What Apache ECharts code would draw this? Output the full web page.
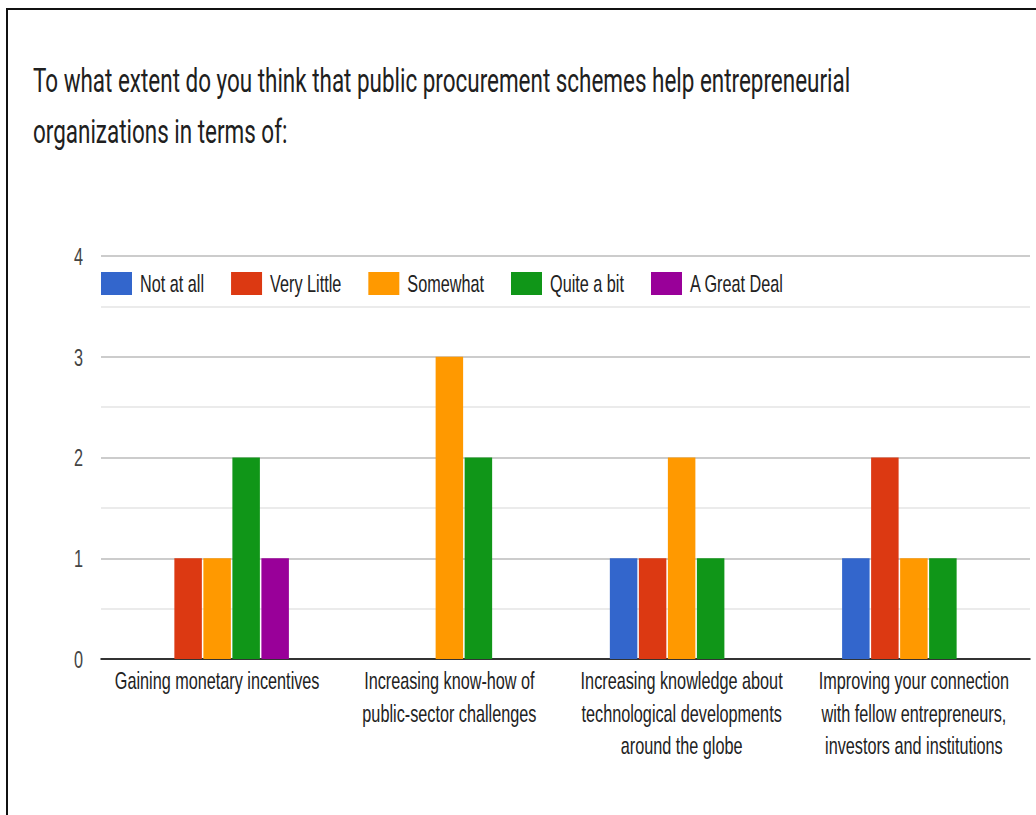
<!DOCTYPE html>
<html>
<head>
<meta charset="utf-8">
<script src="https://cdn.jsdelivr.net/npm/echarts@6/dist/echarts.min.js"></script>
<style>
html,body{margin:0;padding:0;background:#fff;}
#wrap{position:absolute;left:0;top:0;width:1036px;height:815px;overflow:hidden;background:#fff;}
#chart{position:absolute;left:0;top:0;height:815px;transform-origin:0 0;}
#frame{position:absolute;left:6px;top:8px;width:1100px;height:900px;border-top:2px solid #111;border-left:2px solid #111;pointer-events:none;}
</style>
</head>
<body>
<div id="wrap"><div id="chart"></div><div id="frame"></div></div>
<script>
const titleText = "To what extent do you think that public procurement schemes help entrepreneurial\norganizations in terms of:";
const categories = [
  "Gaining monetary incentives",
  "Increasing know-how of\npublic-sector challenges",
  "Increasing knowledge about\ntechnological developments\naround the globe",
  "Improving your connection\nwith fellow entrepreneurs,\ninvestors and institutions"
];
const seriesNames = ["Not at all", "Very Little", "Somewhat", "Quite a bit", "A Great Deal"];
const notAtAll   = [0, 0, 1, 1];
const veryLittle = [1, 0, 1, 2];
const somewhat   = [1, 3, 2, 1];
const quiteABit  = [2, 2, 1, 1];
const greatDeal  = [1, 0, 0, 0];
const yTicks = [0, 1, 2, 3, 4];
const colors = ["#3366cc", "#dc3912", "#ff9900", "#109618", "#990099"];

// The reference image is horizontally condensed; draw wider and squeeze.
const S = 0.66;
const W = 1036 / S;
const px = v => v / S;

const el = document.getElementById('chart');
el.style.width = W + 'px';
el.style.transform = 'scaleX(' + S + ')';
const chart = echarts.init(el, null, {renderer: 'svg', width: W, height: 815});

const values = [notAtAll, veryLittle, somewhat, quiteABit, greatDeal];
const fontLabel = 'Arial, "Liberation Sans", sans-serif';

chart.setOption({
  animation: false,
  color: colors,
  title: {
    text: titleText,
    left: px(33),
    top: 55,
    padding: 0,
    textStyle: {
      fontFamily: 'Roboto, sans-serif',
      fontWeight: 'normal',
      fontSize: 34,
      lineHeight: 51,
      color: '#202020'
    }
  },
  legend: {
    data: seriesNames,
    left: px(101),
    top: 271,
    padding: 0,
    itemWidth: px(31),
    itemHeight: 23,
    itemGap: px(27),
    icon: 'rect',
    textStyle: {
      fontFamily: fontLabel,
      fontSize: 24.6,
      color: '#222',
      padding: [0, 0, 0, px(8) - 5]
    }
  },
  grid: {
    left: px(101),
    top: 256,
    width: px(929),
    height: 403,
    containLabel: false
  },
  xAxis: {
    type: 'category',
    data: categories,
    axisLine: {show: true, lineStyle: {color: '#333', width: 2}},
    axisTick: {show: false},
    axisLabel: {
      interval: 0,
      margin: 5,
      fontFamily: fontLabel,
      fontSize: 24.6,
      lineHeight: 32.5,
      color: '#222',
      align: 'center'
    }
  },
  yAxis: {
    type: 'value',
    min: yTicks[0],
    max: yTicks[yTicks.length - 1],
    interval: 1,
    axisLine: {show: false},
    axisTick: {show: false},
    axisLabel: {
      margin: px(18),
      fontFamily: fontLabel,
      fontSize: 24.6,
      color: '#444'
    },
    splitLine: {show: true, lineStyle: {color: '#cccccc', width: 2}},
    minorTick: {show: false, splitNumber: 2},
    minorSplitLine: {show: true, lineStyle: {color: '#ebebeb', width: 2}}
  },
  series: seriesNames.map((name, i) => ({
    name: name,
    type: 'bar',
    data: values[i],
    barWidth: px(27.5),
    barGap: '5.5%',
    itemStyle: {color: colors[i]}
  }))
});
</script>
</body>
</html>
